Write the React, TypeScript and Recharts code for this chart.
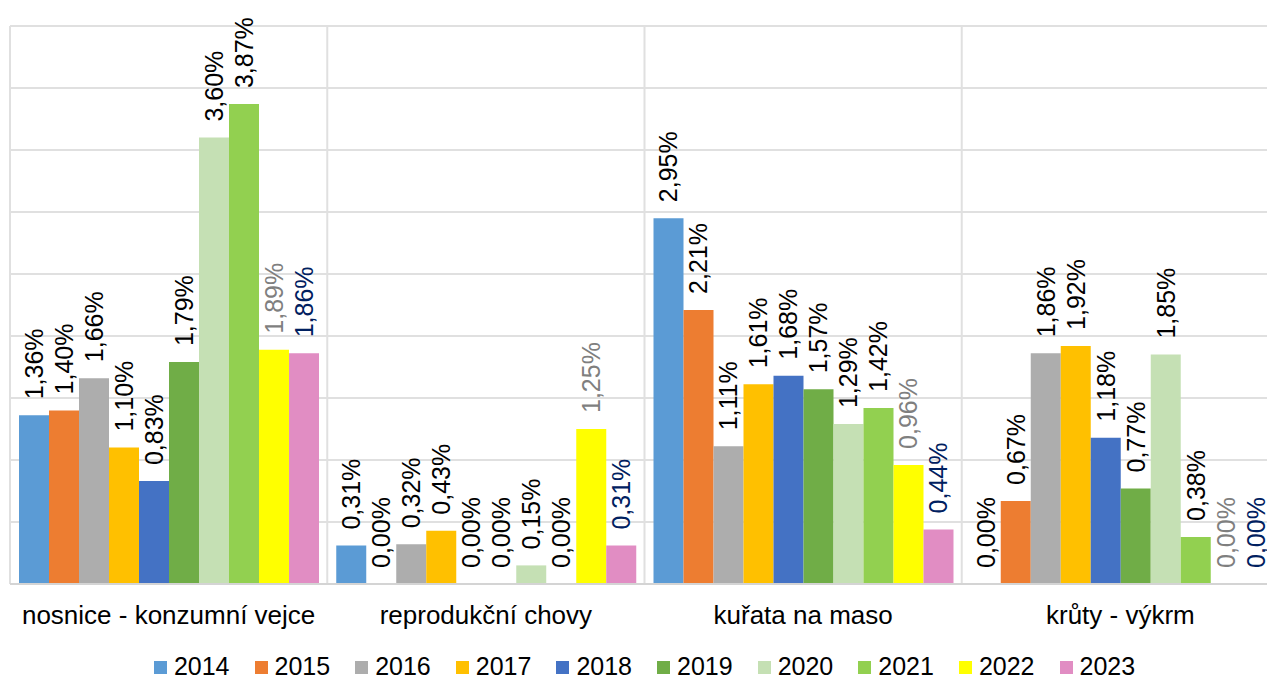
import React from 'react';
import { BarChart, Bar, XAxis, YAxis, CartesianGrid, Legend, LabelList } from 'recharts';

const categories = ['nosnice - konzumní vejce', 'reprodukční chovy', 'kuřata na maso', 'krůty - výkrm'];
const years = ['2014', '2015', '2016', '2017', '2018', '2019', '2020', '2021', '2022', '2023'];

// one array per year, in category order
const v2014 = [1.36, 0.31, 2.95, 0.0];
const v2015 = [1.4, 0.0, 2.21, 0.67];
const v2016 = [1.66, 0.32, 1.11, 1.86];
const v2017 = [1.1, 0.43, 1.61, 1.92];
const v2018 = [0.83, 0.0, 1.68, 1.18];
const v2019 = [1.79, 0.0, 1.57, 0.77];
const v2020 = [3.6, 0.15, 1.29, 1.85];
const v2021 = [3.87, 0.0, 1.42, 0.38];
const v2022 = [1.89, 1.25, 0.96, 0.0];
const v2023 = [1.86, 0.31, 0.44, 0.0];
const seriesValues = [v2014, v2015, v2016, v2017, v2018, v2019, v2020, v2021, v2022, v2023];

const yTicks = [0, 0.5, 1, 1.5, 2, 2.5, 3, 3.5, 4, 4.5];
// category boundaries, counted in categories
const gridTicks = [0, 1, 2, 3, 4];

const colors = ['#5B9BD5', '#ED7D31', '#ADADAD', '#FFC000', '#4472C4', '#70AD47', '#C5E0B4', '#92D050', '#FFFF00', '#E18DC3'];
const labelColors = ['#000', '#000', '#000', '#000', '#000', '#000', '#000', '#000', '#7F7F7F', '#002060'];

const FONT = '"Liberation Sans", Arial, sans-serif';

const data = categories.map((name, ci) => {
  const row: Record<string, string | number> = { name };
  years.forEach((y, yi) => {
    row[y] = seriesValues[yi][ci];
  });
  return row;
});

const fmt = (v: number) => v.toFixed(2).replace('.', ',') + '%';

function RotLabel(props: any) {
  const vb = props.viewBox || {};
  const x = props.x ?? vb.x;
  const y = props.y ?? vb.y;
  const width = props.width ?? vb.width;
  const height = props.height ?? vb.height ?? 0;
  const cx = x + width / 2;
  const top = Math.min(y, y + height);
  const ay = top - 16;
  return (
    <text
      x={cx}
      y={ay}
      transform={`rotate(-90 ${cx} ${ay})`}
      fill={props.color}
      fontSize={25}
      fontFamily={FONT}
      dominantBaseline="central"
      textAnchor="start"
    >
      {fmt(Number(props.value))}
    </text>
  );
}

function LegendBox(props: any) {
  const items = props.payload || [];
  return (
    <div
      style={{
        display: 'flex',
        justifyContent: 'center',
        gap: 25,
        height: 30,
        fontFamily: FONT,
        fontSize: 25,
        lineHeight: '28px',
        color: '#000',
      }}
    >
      {items.map((it: any) => (
        <div key={it.value} style={{ display: 'flex', alignItems: 'center', height: 28 }}>
          <span style={{ display: 'inline-block', width: 13, height: 13, background: it.color, marginRight: 7, marginTop: 2 }} />
          <span>{it.value}</span>
        </div>
      ))}
    </div>
  );
}

export default function App() {
  return (
    <div style={{ position: 'fixed', left: 0, top: 0, width: 1267, height: 682, overflow: 'hidden', background: '#fff' }}>
      <BarChart
        width={1290}
        height={682}
        data={data}
        margin={{ top: 26, right: 11, left: 10, bottom: 0 }}
        barGap={0}
        barSize={30}
      >
        <CartesianGrid
          stroke="#e0e0e0"
          strokeWidth={2}
          verticalCoordinatesGenerator={({ offset }: any) =>
            gridTicks.map((t) => offset.left + (t * offset.width) / categories.length)
          }
        />
        <XAxis
          dataKey="name"
          height={68}
          tickSize={0}
          tickMargin={22}
          axisLine={{ stroke: '#d4d4d4', strokeWidth: 2 }}
          tick={{ fill: '#000', fontSize: 26, fontFamily: FONT }}
          interval={0}
        />
        <YAxis domain={[0, 4.5]} ticks={yTicks} hide allowDataOverflow />
        <Legend verticalAlign="bottom" content={<LegendBox />} />
        {years.map((y, i) => (
          <Bar key={y} dataKey={y} fill={colors[i]} minPointSize={0.01} isAnimationActive={false}>
            <LabelList dataKey={y} content={(p: any) => <RotLabel {...p} color={labelColors[i]} />} />
          </Bar>
        ))}
      </BarChart>
    </div>
  );
}
